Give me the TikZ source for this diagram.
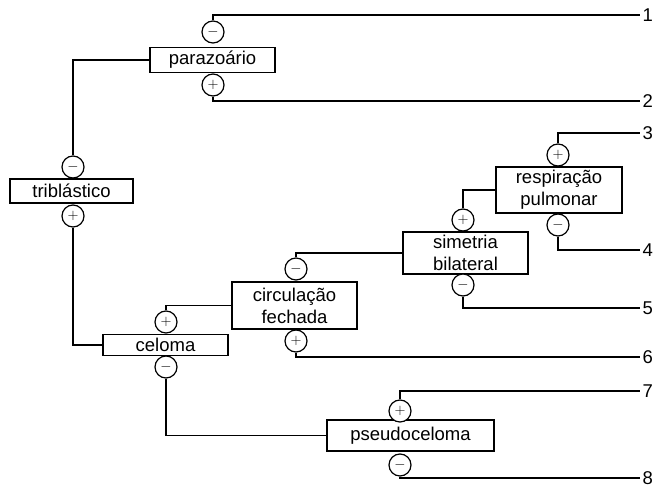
\documentclass[tikz,border=0pt]{standalone}
\usepackage{fontspec}
\setmainfont{Liberation Sans}
\usepackage{tikz}

\begin{document}
\begin{tikzpicture}[x=1pt,y=-1pt,line width=1.2pt,
    caixa/.style={draw,fill=white,inner sep=0pt,align=center,
        font=\fontsize{18.5}{22}\selectfont},
    sinal/.style={draw,circle,fill=white,inner sep=0pt,minimum size=22pt,
        font=\fontsize{15}{15}\selectfont},
    num/.style={anchor=west,inner sep=2pt,font=\fontsize{18.5}{22}\selectfont}]
    \useasboundingbox (0,0) rectangle (667,489);
    \node[caixa,minimum width=125pt,minimum height=25pt] (para) at (212.5,60) {parazoário};
    \node[caixa,minimum width=123pt,minimum height=24pt] (tri) at (71.5,191) {triblástico};
    \node[caixa,minimum width=125pt,minimum height=21pt] (cel) at (165.5,345) {celoma};
    \node[caixa,minimum width=125pt,minimum height=47pt] (circ) at (294.5,305.5) {circulação\\fechada};
    \node[caixa,minimum width=125pt,minimum height=42pt] (sim) at (465.5,253) {simetria\\bilateral};
    \node[caixa,minimum width=126pt,minimum height=46pt] (resp) at (559,190) {respiração\\pulmonar};
    \node[caixa,minimum width=167pt,minimum height=31pt] (pseudo) at (410.5,435.5) {pseudoceloma};
    \node[sinal] (parm) at (213,32) {$-$};
    \node[sinal] (parp) at (213,85) {$+$};
    \node[sinal] (trim) at (73,167) {$-$};
    \node[sinal] (trip) at (73,216) {$+$};
    \node[sinal] (celp) at (166,322) {$+$};
    \node[sinal] (celm) at (166,367) {$-$};
    \node[sinal] (circm) at (296,269) {$-$};
    \node[sinal] (circp) at (296,341) {$+$};
    \node[sinal] (simp) at (463,220) {$+$};
    \node[sinal] (simm) at (463,285) {$-$};
    \node[sinal] (respp) at (558,155) {$+$};
    \node[sinal] (respm) at (558,225) {$-$};
    \node[sinal] (psp) at (400,411) {$+$};
    \node[sinal] (psm) at (400,465) {$-$};
    \node[num] (n1) at (640,15) {1};
    \node[num] (n2) at (640,101) {2};
    \node[num] (n3) at (640,133) {3};
    \node[num] (n4) at (640,250) {4};
    \node[num] (n5) at (640,308) {5};
    \node[num] (n6) at (640,357) {6};
    \node[num] (n7) at (640,391) {7};
    \node[num] (n8) at (640,478) {8};
    \draw (para.west) -| (trim.north);
    \draw (trip.south) |- (cel.west);
    \draw (celp.north) |- (circ.west);
    \draw (celm.south) |- (pseudo.west);
    \draw (circm.north) |- (sim.west);
    \draw (simp.north) |- (resp.west);
    \draw (parm.north) |- (n1.west);
    \draw (parp.south) |- (n2.west);
    \draw (respp.north) |- (n3.west);
    \draw (respm.south) |- (n4.west);
    \draw (simm.south) |- (n5.west);
    \draw (circp.south) |- (n6.west);
    \draw (psp.north) |- (n7.west);
    \draw (psm.south) |- (n8.west);
\end{tikzpicture}
\end{document}
